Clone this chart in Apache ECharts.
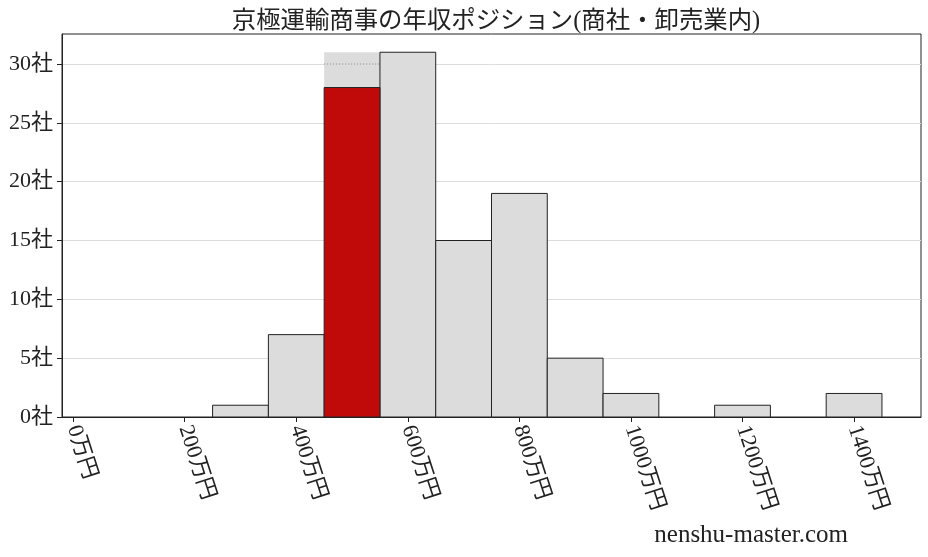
<!DOCTYPE html>
<html><head><meta charset="utf-8">
<script src="https://cdn.jsdelivr.net/npm/echarts@6/dist/echarts.min.js"></script>
<style>html,body{margin:0;padding:0;background:#fff;}#c{width:928px;height:557px;}</style>
</head><body><div id="c"></div>
<script>
const titleText = '京極運輸商事の年収ポジション(商社・卸売業内)';
const binCenters = [100, 200, 300, 400, 500, 600, 700, 800, 900, 1000, 1100, 1200, 1300, 1400];
const binCounts  = [0, 0, 1, 7, 31, 31, 15, 19, 5, 2, 0, 1, 0, 2];
const binWidth = 100;
const highlightCenter = 500;
const highlightCount = 28;
const highlightMarkY = 30;
const xTicks = [0, 200, 400, 600, 800, 1000, 1200, 1400];
const yTicks = [0, 5, 10, 15, 20, 25, 30];
const watermark = 'nenshu-master.com';

const FONT = "'Liberation Serif', 'DejaVu Serif', 'Noto Sans CJK JP', serif";

const greyData = [], bgData = [];
binCenters.forEach((c, i) => {
  if (c === highlightCenter) bgData.push([c, binCounts[i]]);
  else if (binCounts[i] > 0) greyData.push([c, binCounts[i]]);
});

function rectRender(fill, stroke) {
  return function (params, api) {
    const c = api.value(0), v = api.value(1);
    const p0 = api.coord([c - binWidth / 2, v]);
    const p1 = api.coord([c + binWidth / 2, 0]);
    return {
      type: 'rect',
      shape: { x: p0[0], y: p0[1], width: p1[0] - p0[0], height: p1[1] - p0[1] },
      style: { fill: fill, stroke: stroke, lineWidth: stroke ? 1 : 0 }
    };
  };
}

const chart = echarts.init(document.getElementById('c'), null, { renderer: 'canvas' });
chart.setOption({
  animation: false,
  backgroundColor: '#fff',
  title: {
    text: titleText, left: 491, textAlign: 'center', top: 4,
    textStyle: { fontFamily: FONT, fontSize: 24.4, fontWeight: 'normal', color: '#222' }
  },
  grid: { left: 62, right: 7, top: 34, bottom: 140, show: true, borderColor: '#222', borderWidth: 1, backgroundColor: 'transparent' },
  xAxis: {
    type: 'value', min: -20, max: 1520,
    axisLine: { show: true, onZero: false, lineStyle: { color: '#222' } },
    axisTick: { show: true, inside: false, length: 5, customValues: xTicks, lineStyle: { color: '#222' } },
    splitLine: { show: false },
    axisLabel: {
      customValues: xTicks, rotate: -72, margin: 9,
      fontFamily: FONT, fontSize: 22, color: '#222',
      formatter: v => v + '万円'
    }
  },
  yAxis: {
    type: 'value', min: 0, max: 32.55, interval: 5,
    axisLine: { show: true, onZero: false, lineStyle: { color: '#222' } },
    axisTick: { show: true, inside: false, length: 5, customValues: yTicks, lineStyle: { color: '#222' } },
    splitLine: { show: true, lineStyle: { color: '#dddddd', width: 1 } },
    axisLabel: {
      customValues: yTicks, margin: 9,
      fontFamily: FONT, fontSize: 22, color: '#222',
      formatter: v => v + '社'
    }
  },
  series: [
    { type: 'custom', renderItem: rectRender('#dcdcdc', null), data: bgData, z: 2 },
    {
      type: 'line', data: [[highlightCenter - binWidth / 2, highlightMarkY], [highlightCenter + binWidth / 2, highlightMarkY]],
      symbol: 'none', lineStyle: { color: '#888888', width: 1, type: [1, 2] }, z: 3
    },
    { type: 'custom', renderItem: rectRender('#dcdcdc', '#222'), data: greyData, z: 4 },
    { type: 'custom', renderItem: rectRender('#c00a0a', '#222'), data: [[highlightCenter, highlightCount]], z: 5 }
  ],
  graphic: [{
    type: 'text', right: 80, top: 523,
    style: { text: watermark, fontFamily: FONT, fontSize: 25, fill: '#222' }
  }]
});
</script></body></html>
